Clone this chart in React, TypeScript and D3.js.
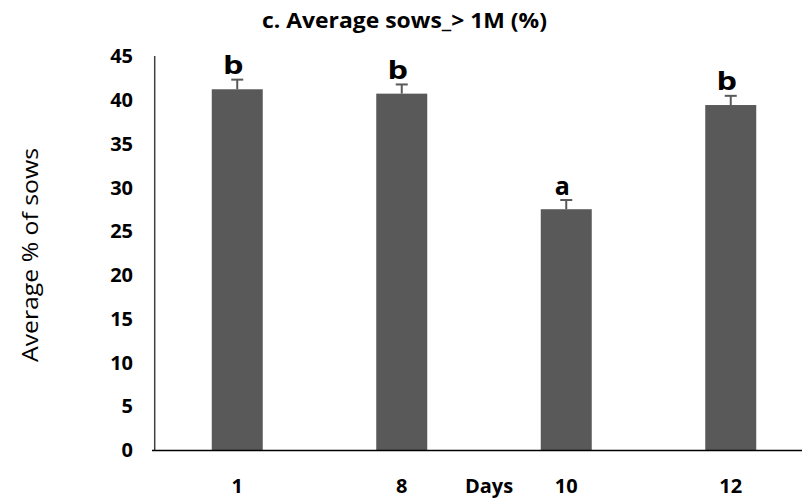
import React from "react";
import * as d3 from "d3";

// Days sampled and average share of sows > 1M (%)
const days = ["1", "8", "10", "12"];
const means = [41.2, 40.7, 27.5, 39.4];
const errors = [1.1, 1.05, 1.05, 1.05];
const groups = ["b", "b", "a", "b"];
const yTicks = [0, 5, 10, 15, 20, 25, 30, 35, 40, 45];

const W = 802;
const H = 502;
const FONT = "'Open Sans', 'Liberation Sans', sans-serif";
const BAR = "#595959";

export default function App() {
  const y = d3.scaleLinear().domain([0, 45]).range([450, 56]);
  const x = d3
    .scaleBand<string>()
    .domain(days)
    .range([155, 813])
    .paddingInner(0.69)
    .paddingOuter(0.345);
  const bw = x.bandwidth();

  return (
    <svg
      width={W}
      height={H}
      style={{ position: "absolute", left: 0, top: 0, background: "#fff" }}
      fontFamily={FONT}
    >
      {/* title */}
      <text
        x={404.5}
        y={28}
        textAnchor="middle"
        fontSize={21}
        fontWeight="bold"
        textLength={285}
        lengthAdjust="spacingAndGlyphs"
        fill="#000"
      >
        c. Average sows_&gt; 1M (%)
      </text>

      {/* y axis title */}
      <text
        transform={`translate(38,255) rotate(-90)`}
        textAnchor="middle"
        fontSize={22}
        textLength={214}
        lengthAdjust="spacingAndGlyphs"
        fill="#000"
      >
        Average % of sows
      </text>

      {/* y tick labels */}
      {yTicks.map((t) => (
        <text
          key={t}
          x={133}
          y={y(t)}
          dy="0.36em"
          textAnchor="end"
          fontSize={20}
          fontWeight="bold"
          fill="#000"
        >
          {t}
        </text>
      ))}

      {/* bars */}
      {days.map((d, i) => (
        <rect
          key={d}
          x={x(d)}
          y={y(means[i])}
          width={bw}
          height={y(0) - y(means[i])}
          fill={BAR}
        />
      ))}

      {/* error bars */}
      {days.map((d, i) => {
        const cx = (x(d) as number) + bw / 2;
        const top = y(means[i] + errors[i]);
        return (
          <g key={d} stroke={BAR} strokeWidth={2}>
            <line x1={cx} x2={cx} y1={y(means[i])} y2={top} />
            <line x1={cx - 6} x2={cx + 6} y1={top} y2={top} />
          </g>
        );
      })}

      {/* significance letters */}
      {days.map((d, i) => {
        const cx = (x(d) as number) + bw / 2;
        const base = y(means[i] + errors[i]) - 5.5;
        const sx = groups[i] === "b" ? 1.3 : 1;
        return (
          <text
            key={d}
            transform={`translate(${cx - 4},${base}) scale(${sx},1)`}
            textAnchor="middle"
            fontSize={25}
            fontWeight="bold"
            fill="#000"
          >
            {groups[i]}
          </text>
        );
      })}

      {/* axes */}
      <line x1={154.7} x2={154.7} y1={56} y2={451} stroke="#404040" strokeWidth={1.5} />
      <line x1={152} x2={W} y1={450.5} y2={450.5} stroke="#000" strokeWidth={1.6} />

      {/* x tick labels */}
      {days.map((d) => (
        <text
          key={d}
          x={(x(d) as number) + bw / 2}
          y={493}
          textAnchor="middle"
          fontSize={20}
          fontWeight="bold"
          fill="#000"
        >
          {d}
        </text>
      ))}
      <text x={489} y={493} textAnchor="middle" fontSize={20} fontWeight="bold" fill="#000">
        Days
      </text>
    </svg>
  );
}
